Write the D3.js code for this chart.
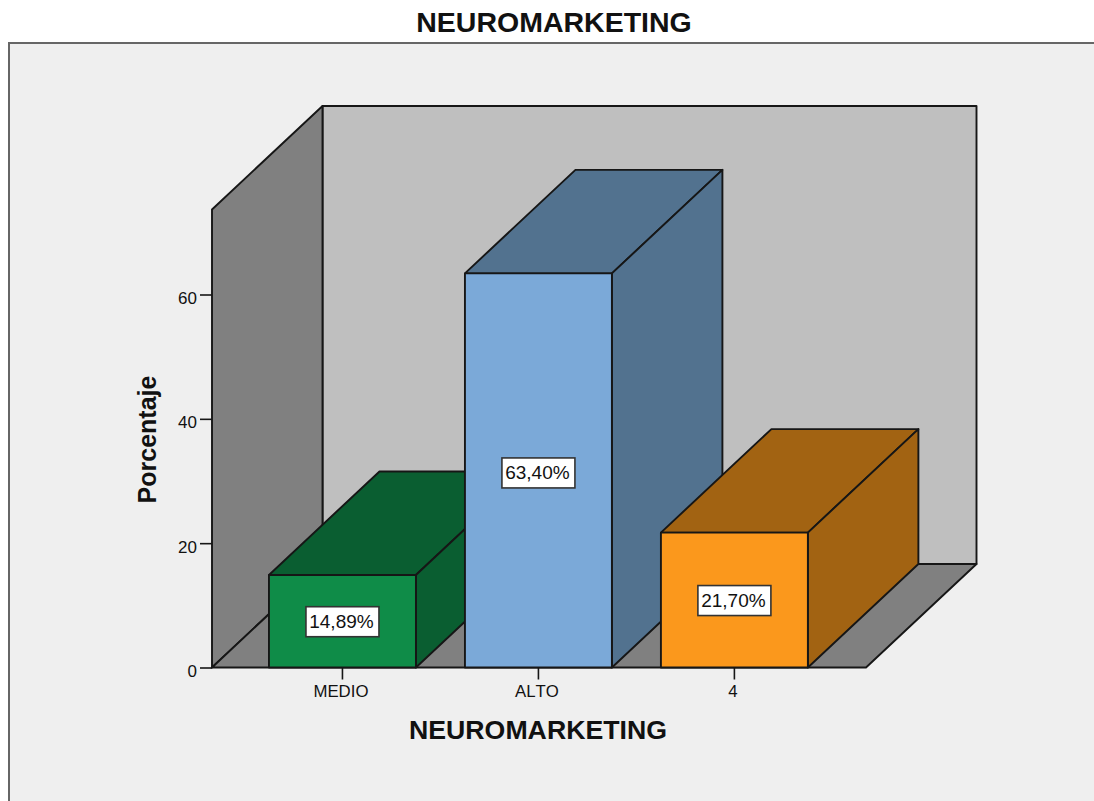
<!DOCTYPE html>
<html>
<head>
<meta charset="utf-8">
<script src="https://cdn.jsdelivr.net/npm/d3@7"></script>
<style>
  html, body { margin: 0; padding: 0; background: #fff; }
  svg { display: block; }
  text { font-family: "Liberation Sans", Arial, sans-serif; fill: #111; }
</style>
</head>
<body>
<svg id="chart" width="1094" height="801"></svg>
<script>
const categories = ["MEDIO", "ALTO", "4"];
const percentages = [14.89, 63.40, 21.70];
const percentLabels = ["14,89%", "63,40%", "21,70%"];
const yTicks = [0, 20, 40, 60];
const frontColors = ["#0f8c48", "#7ba9d8", "#fb981c"];
const sideColors = ["#0a5e31", "#52728f", "#a26312"];

const svg = d3.select("#chart");
const INK = "#161616";

// Oblique projection: the chart box recedes up and to the right.
const depth = { x: 110.5, y: -103.5 };
const y = d3.scaleLinear().domain([0, 60]).range([667.5, 294.5]);
const x = d3.scaleBand().domain(categories).range([212, 866])
  .paddingInner(0.25).paddingOuter(0.2936).align(0.495);
const yMax = y.invert(209.5);

const poly = pts => d3.line()(pts) + "Z";
function face(pts, fill) {
  svg.append("path").attr("d", poly(pts)).attr("fill", fill)
    .attr("stroke", INK).attr("stroke-width", 1.9).attr("stroke-linejoin", "round");
}
const back = ([a, b]) => [a + depth.x, b + depth.y];

// Panel behind the chart
svg.append("rect").attr("x", 9).attr("y", 43).attr("width", 1100).attr("height", 780)
  .attr("fill", "#efefef").attr("stroke", "#666").attr("stroke-width", 2);

// Chart box: back wall, side wall, floor
const [x0, x1] = x.range();
const y0 = y(0), yTop = y(yMax);
face([back([x0, yTop]), back([x1, yTop]), back([x1, y0]), back([x0, y0])], "#bfbfbf");
face([[x0, y0], [x0, yTop], back([x0, yTop]), back([x0, y0])], "#808080");
face([[x0, y0], back([x0, y0]), back([x1, y0]), [x1, y0]], "#808080");

// Bars: top and side faces first, then the front, left to right so nearer bars overlap
categories.forEach((c, i) => {
  const l = x(c), r = l + x.bandwidth(), t = y(percentages[i]);
  face([[l, t], back([l, t]), back([r, t]), [r, t]], sideColors[i]);
  face([[r, t], back([r, t]), back([r, y0]), [r, y0]], sideColors[i]);
  face([[l, t], [r, t], [r, y0], [l, y0]], frontColors[i]);
});

// Value labels centred on each bar's front face
categories.forEach((c, i) => {
  const cx = x(c) + x.bandwidth() / 2;
  const cy = y(percentages[i] / 2) + (i === 1 ? 3 : 1);
  const g = svg.append("g");
  g.append("rect").attr("x", cx - 36.5).attr("y", cy - 15.5).attr("width", 73).attr("height", 30)
    .attr("fill", "#fff").attr("stroke", "#333").attr("stroke-width", 1.6);
  g.append("text").attr("x", cx - 1).attr("y", cy + 6).attr("text-anchor", "middle")
    .attr("font-size", 19).text(percentLabels[i]);
});

// Axes
const yAxis = svg.append("g").attr("transform", `translate(${x0},0)`)
  .call(d3.axisLeft(y).tickValues(yTicks).tickSize(12).tickPadding(3));
yAxis.select(".domain").remove();
yAxis.selectAll("line").attr("stroke", INK).attr("stroke-width", 1.6);
yAxis.selectAll("text").attr("font-size", 17).attr("dy", "0.52em")
  .attr("font-family", "Liberation Sans, Arial, sans-serif").attr("fill", "#222");

const xAxis = svg.append("g").attr("transform", `translate(0,${y0})`)
  .call(d3.axisBottom(x).tickSize(12).tickPadding(5.5));
xAxis.select(".domain").remove();
xAxis.selectAll("line").attr("stroke", INK).attr("stroke-width", 1.6);
xAxis.selectAll("text").attr("font-size", 16.8).attr("dx", -1.5)
  .style("font-kerning", "none")
  .attr("font-family", "Liberation Sans, Arial, sans-serif").attr("fill", "#222");

// Titles
svg.append("text").attr("x", 554).attr("y", 32).attr("text-anchor", "middle")
  .attr("font-size", 28.5).attr("font-weight", "bold").text("NEUROMARKETING");
svg.append("text").attr("x", 538).attr("y", 739).attr("text-anchor", "middle")
  .attr("font-size", 26.7).attr("font-weight", "bold").text("NEUROMARKETING");
svg.append("text").attr("transform", "translate(156,439.5) rotate(-90)").attr("text-anchor", "middle")
  .attr("font-size", 25).attr("font-weight", "bold").text("Porcentaje");
</script>
</body>
</html>
